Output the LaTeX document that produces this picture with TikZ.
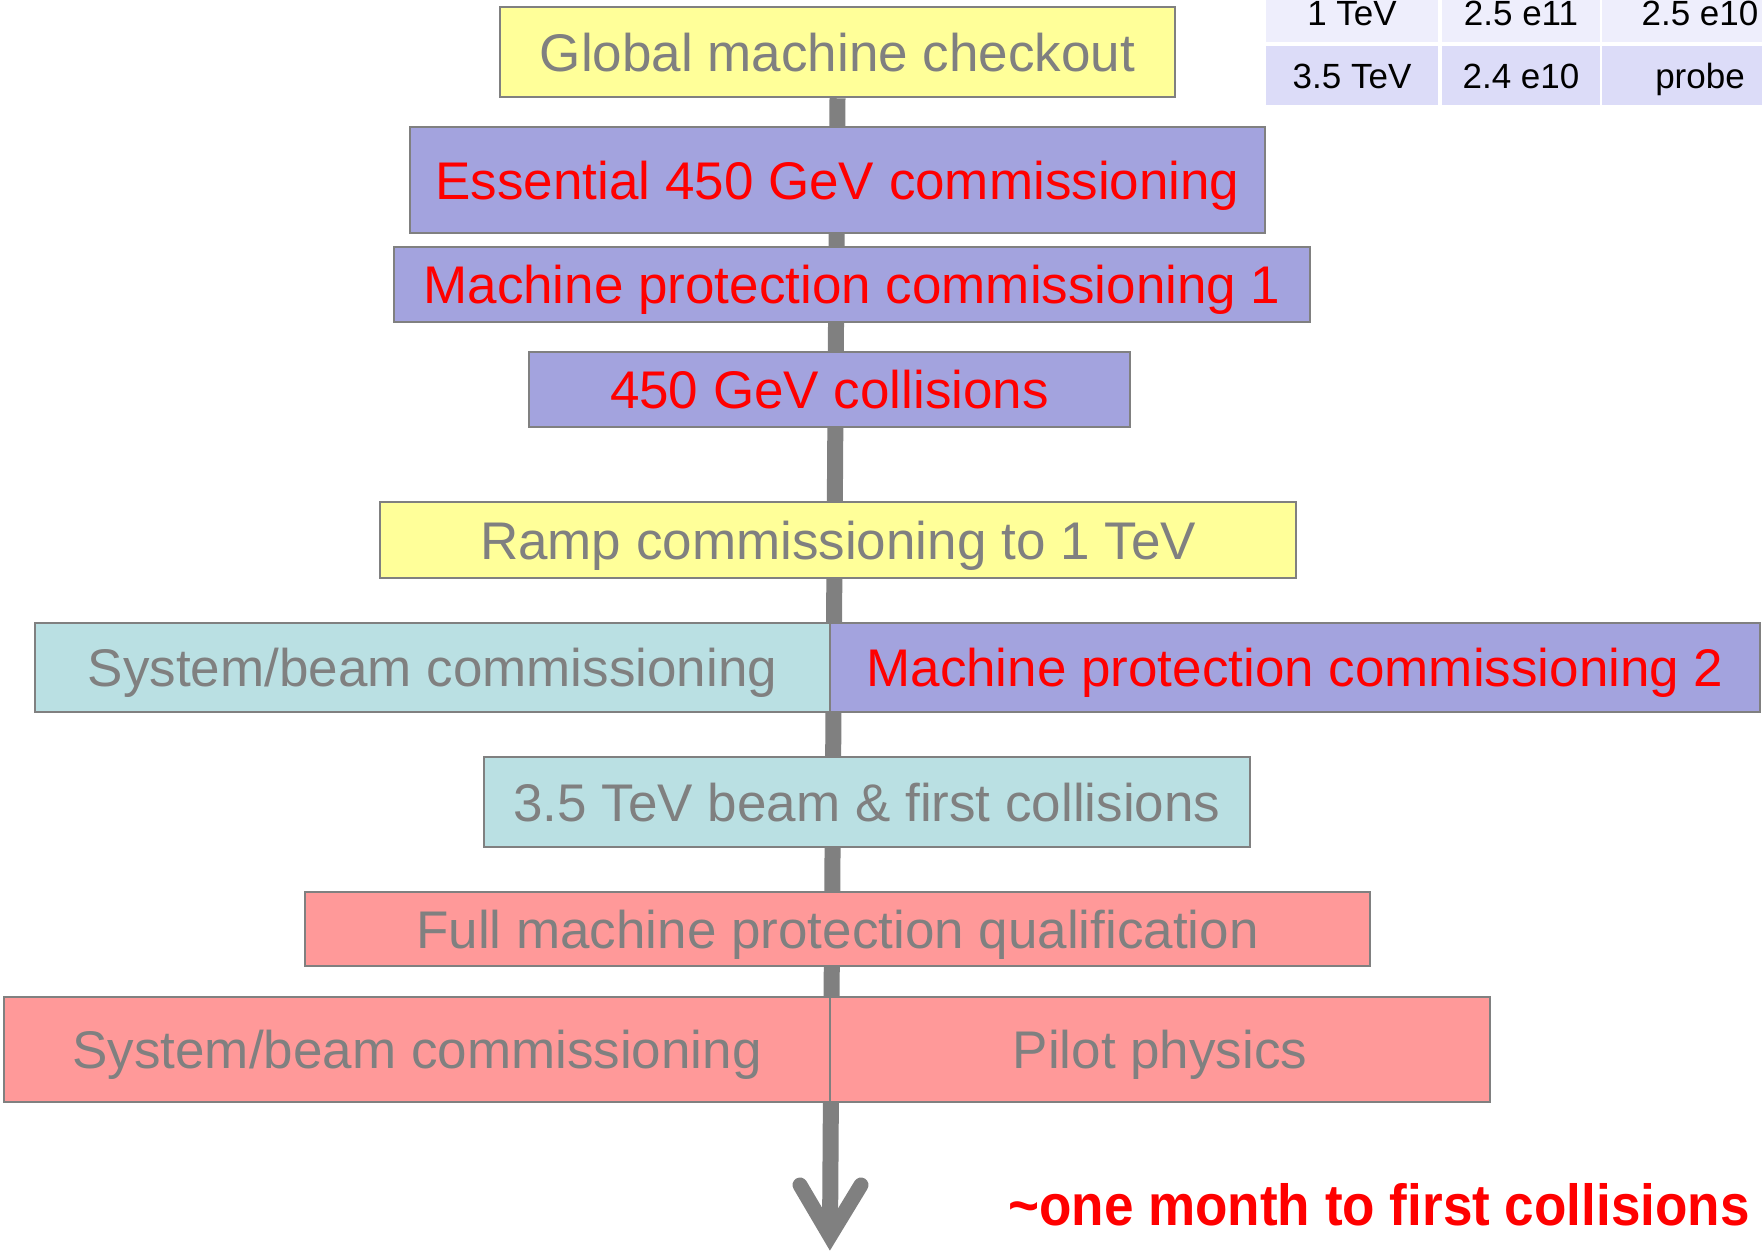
\documentclass[tikz,border=0pt]{standalone}
\usepackage{fontspec}
\setmainfont{Liberation Sans}
\usetikzlibrary{backgrounds}
\definecolor{boxgray}{RGB}{128,128,128}
\definecolor{txtgray}{RGB}{128,128,128}
\definecolor{ylw}{RGB}{255,255,153}
\definecolor{lav}{RGB}{163,163,222}
\definecolor{cyn}{RGB}{186,224,227}
\definecolor{pnk}{RGB}{255,153,153}
\definecolor{rowA}{RGB}{238,238,252}
\definecolor{rowB}{RGB}{220,220,248}
\begin{document}
\begin{tikzpicture}[x=1pt,y=-1pt,
  box/.style={draw=boxgray, line width=2.5pt, inner sep=0pt, text height=38pt, text depth=0pt,
    font=\fontsize{53}{60}\selectfont},
  gtxt/.style={text=txtgray},
  rtxt/.style={text=red},
  cell/.style={inner sep=0pt, text height=25pt, text depth=0pt, font=\fontsize{35}{40}\selectfont, text=black},
  shaft/.style={draw=boxgray, line width=16pt}]
\useasboundingbox (0,0) rectangle (1762,1254);

% table
\node[cell, fill=rowA, minimum width=172pt, minimum height=58pt] (t11) at (1352,13) {1 TeV};
\node[cell, fill=rowA, minimum width=158pt, minimum height=58pt] (t12) at (1521,13) {2.5 e11};
\node[cell, fill=rowA, minimum width=196pt, minimum height=58pt] (t13) at (1700,13) {2.5 e10};
\node[cell, fill=rowB, minimum width=172pt, minimum height=59pt] (t21) at (1352,75.5) {3.5 TeV};
\node[cell, fill=rowB, minimum width=158pt, minimum height=59pt] (t22) at (1521,75.5) {2.4 e10};
\node[cell, fill=rowB, minimum width=196pt, minimum height=59pt] (t23) at (1700,75.5) {probe};

% boxes
\node[box, gtxt, fill=ylw, minimum width=675pt, minimum height=90pt] (g) at (837.5,52) {Global machine checkout};
\node[box, rtxt, fill=lav, minimum width=855pt, minimum height=106pt] (e) at (837.5,180) {Essential 450 GeV commissioning};
\node[box, rtxt, fill=lav, minimum width=916pt, minimum height=75pt] (m1) at (852,284.5) {Machine protection commissioning 1};
\node[box, rtxt, fill=lav, minimum width=601pt, minimum height=75pt] (c450) at (829.5,389.5) {450 GeV collisions};
\node[box, gtxt, fill=ylw, minimum width=916pt, minimum height=76pt] (ramp) at (838,540) {Ramp commissioning to 1 TeV};
\node[box, gtxt, fill=cyn, minimum width=795pt, minimum height=89pt] (sysa) at (432.5,667.5) {System/beam commissioning};
\node[box, rtxt, fill=lav, minimum width=930pt, minimum height=89pt] (m2) at (1295,667.5) {Machine protection commissioning 2};
\node[box, gtxt, fill=cyn, minimum width=766pt, minimum height=90pt] (tev) at (867,802) {3.5 TeV beam \& first collisions};
\node[box, gtxt, fill=pnk, minimum width=1065pt, minimum height=74pt] (full) at (837.5,929) {Full machine protection qualification};
\node[box, gtxt, fill=pnk, minimum width=826pt, minimum height=105pt] (sysb) at (417,1049.5) {System/beam commissioning};
\node[box, gtxt, fill=pnk, minimum width=660pt, minimum height=105pt] (pilot) at (1160,1049.5) {Pilot physics};

% arrow
\coordinate (tip) at (830,1236);
\coordinate (wl) at (800,1185);
\coordinate (wr) at (861,1185);
\begin{scope}[on background layer]
\draw[shaft] (g.south) -- (tip);
\end{scope}
\draw[shaft, line width=15pt, line cap=round, line join=miter] (wl) -- (tip) -- (wr);

\node[anchor=base west, inner sep=0pt, text=red, font=\bfseries\fontsize{58}{64}\selectfont] (note) at (1008,1225) {\scalebox{0.915}[1]{\textasciitilde one month to first collisions}};
\end{tikzpicture}
\end{document}
